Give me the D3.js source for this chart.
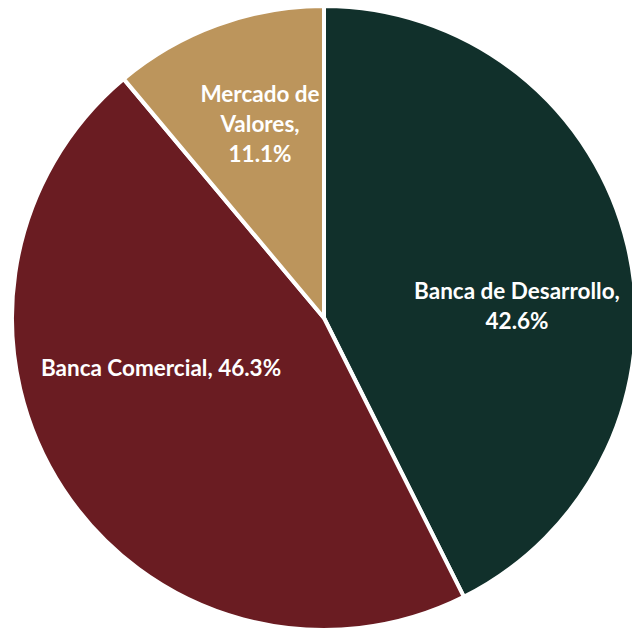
<!DOCTYPE html>
<html>
<head>
<meta charset="utf-8">
<script src="https://cdn.jsdelivr.net/npm/d3@7"></script>
<style>
  html, body { margin: 0; padding: 0; background: #fff; }
</style>
</head>
<body>
<div class="graph"></div>
<script>
  const categories = ["Banca de Desarrollo", "Banca Comercial", "Mercado de Valores"];
  const shares = [42.6, 46.3, 11.1];
  const colors = ["#11302B", "#6A1C22", "#BC955C"];

  // label lines per slice (text only)
  const labelLines = [
    ["Banca de Desarrollo,", "42.6%"],
    ["Banca Comercial, 46.3%"],
    ["Mercado de", "Valores,", "11.1%"]
  ];
  // where each label sits, relative to the pie centre
  const labelOffsets = [[193, -11], [-163, 51], [-64, -193]];

  const width = 632, height = 633;
  const cx = 324, cy = 318, radius = 312;
  const fontFamily = "Lato, 'Open Sans', sans-serif";

  const svg = d3.select(".graph").append("svg")
    .attr("width", width)
    .attr("height", height);

  const g = svg.append("g")
    .attr("transform", `translate(${cx}, ${cy})`);

  const pie = d3.pie().sort(null).value(d => d.value);
  const arc = d3.arc().innerRadius(0).outerRadius(radius);

  const data = categories.map((c, i) => ({ name: c, value: shares[i], color: colors[i] }));
  const arcs = pie(data);

  g.selectAll("path.slice")
    .data(arcs)
    .enter().append("path")
    .attr("class", "slice")
    .attr("d", arc)
    .attr("fill", d => d.data.color)
    .attr("stroke", "#fff")
    .attr("stroke-width", 4)
    .attr("stroke-linejoin", "round");

  arcs.forEach((d, i) => {
    const [ox, oy] = labelOffsets[i];
    const lines = labelLines[i];
    const lh = 30;
    const t = g.append("text")
      .attr("text-anchor", "middle")
      .style("font-family", fontFamily)
      .style("font-weight", "bold")
      .style("font-size", "22.5px")
      .style("fill", "#fff");
    lines.forEach((ln, j) => {
      t.append("tspan")
        .attr("x", ox)
        .attr("y", oy + j * lh - (lines.length - 1) * lh / 2 + 7)
        .text(ln);
    });
  });
</script>
</body>
</html>
